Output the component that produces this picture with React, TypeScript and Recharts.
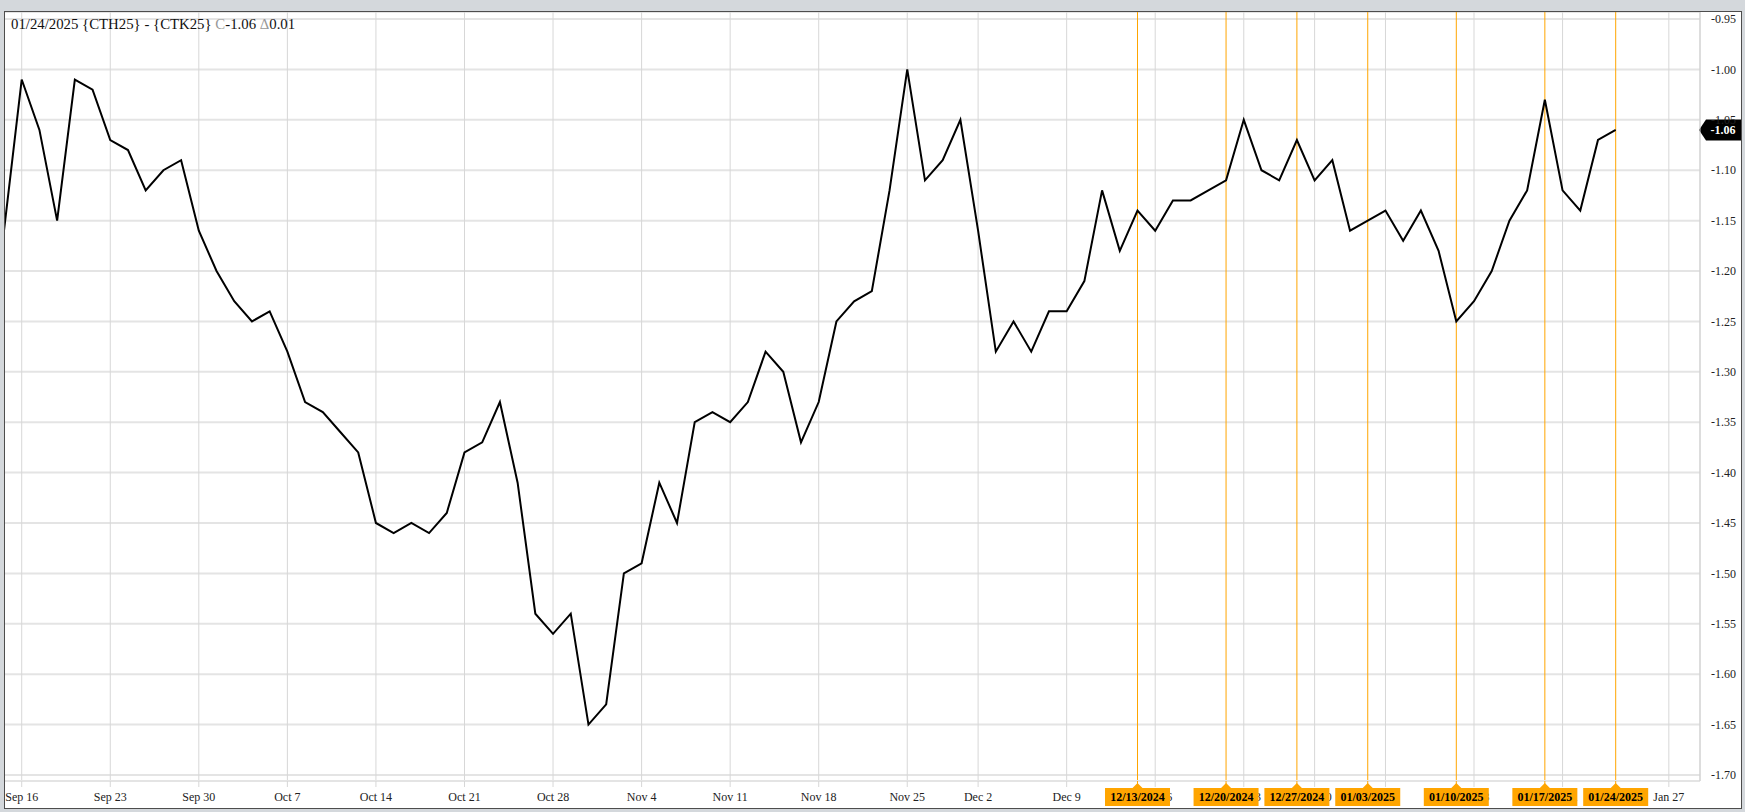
import React from 'react';
import { LineChart, Line, XAxis, YAxis, CartesianGrid, ReferenceLine } from 'recharts';

const tradingDays = [
  '09/13', '09/16', '09/17', '09/18', '09/19', '09/20', '09/23', '09/24', '09/25', '09/26', '09/27', '09/30',
  '10/01', '10/02', '10/03', '10/04', '10/07', '10/08', '10/09', '10/10', '10/11', '10/14', '10/15', '10/16', '10/17', '10/18', '10/21', '10/22', '10/23', '10/24', '10/25', '10/28', '10/29', '10/30', '10/31',
  '11/01', '11/04', '11/05', '11/06', '11/07', '11/08', '11/11', '11/12', '11/13', '11/14', '11/15', '11/18', '11/19', '11/20', '11/21', '11/22', '11/25', '11/26', '11/27', '11/29',
  '12/02', '12/03', '12/04', '12/05', '12/06', '12/09', '12/10', '12/11', '12/12', '12/13', '12/16', '12/17', '12/18', '12/19', '12/20', '12/23', '12/24', '12/26', '12/27', '12/30', '12/31',
  '01/02', '01/03', '01/06', '01/07', '01/08', '01/09', '01/10', '01/13', '01/14', '01/15', '01/16', '01/17', '01/21', '01/22', '01/23', '01/24',
];

const spreadValues = [
  -1.16, -1.01, -1.06, -1.15, -1.01, -1.02, -1.07, -1.08, -1.12, -1.10, -1.09, -1.16,
  -1.20, -1.23, -1.25, -1.24, -1.28, -1.33, -1.34, -1.36, -1.38, -1.45, -1.46, -1.45, -1.46, -1.44, -1.38, -1.37, -1.33, -1.41, -1.54, -1.56, -1.54, -1.65, -1.63,
  -1.50, -1.49, -1.41, -1.45, -1.35, -1.34, -1.35, -1.33, -1.28, -1.30, -1.37, -1.33, -1.25, -1.23, -1.22, -1.12, -1.00, -1.11, -1.09, -1.05,
  -1.16, -1.28, -1.25, -1.28, -1.24, -1.24, -1.21, -1.12, -1.18, -1.14, -1.16, -1.13, -1.13, -1.12, -1.11, -1.05, -1.10, -1.11, -1.07, -1.11, -1.09,
  -1.16, -1.15, -1.14, -1.17, -1.14, -1.18, -1.25, -1.23, -1.20, -1.15, -1.12, -1.03, -1.12, -1.14, -1.07, -1.06,
];

const xTickIndices = [1, 6, 11, 16, 21, 26, 31, 36, 41, 46, 51, 55, 60, 65, 70, 74, 78, 83, 88, 94];
const xTickLabels = ['Sep 16', 'Sep 23', 'Sep 30', 'Oct 7', 'Oct 14', 'Oct 21', 'Oct 28', 'Nov 4', 'Nov 11', 'Nov 18', 'Nov 25', 'Dec 2', 'Dec 9', 'Dec 16', 'Dec 23', 'Dec 30', 'Jan 6', 'Jan 13', 'Jan 21', 'Jan 27'];

const yTicks = [-0.95, -1.0, -1.05, -1.1, -1.15, -1.2, -1.25, -1.3, -1.35, -1.4, -1.45, -1.5, -1.55, -1.6, -1.65, -1.7];

const markerIndices = [64, 69, 73, 77, 82, 87, 91];
const markerLabels = ['12/13/2024', '12/20/2024', '12/27/2024', '01/03/2025', '01/10/2025', '01/17/2025', '01/24/2025'];

const data = spreadValues.map((v, i) => ({ i, day: tradingDays[i], v }));

const FONT = "'Liberation Serif', 'Times New Roman', Times, serif";
const ORANGE = '#ffa500';
const X_AXIS_HEIGHT = 30;

const lastValue = spreadValues[spreadValues.length - 1];
const lastChange = lastValue - spreadValues[spreadValues.length - 2];

const MarkerTick = (props: any) => {
  const { x, y, payload } = props;
  const k = markerIndices.indexOf(payload?.value);
  if (k < 0) return null;
  const yb = y - X_AXIS_HEIGHT;
  const hw = 32.5;
  const pts = [
    [x - hw, yb + 7], [x - 5, yb + 7], [x, yb + 2], [x + 5, yb + 7], [x + hw, yb + 7], [x + hw, yb + 25], [x - hw, yb + 25],
  ].map((p) => p.join(',')).join(' ');
  return (
    <g>
      <line x1={x} x2={x} y1={yb} y2={yb + 3} stroke={ORANGE} strokeWidth={1} />
      <polygon points={pts} fill={ORANGE} />
      <text x={x} y={yb + 20} textAnchor="middle" fontFamily={FONT} fontSize={12} fontWeight="bold" fill="#000">
        {markerLabels[k]}
      </text>
    </g>
  );
};

const PriceBadge = (props: any) => {
  const { viewBox, text } = props;
  if (!viewBox) return null;
  const xr = viewBox.x + viewBox.width;
  const y = viewBox.y;
  const pts = [
    [xr - 1, y], [xr + 6, y - 10.5], [xr + 41, y - 10.5], [xr + 41, y + 10.5], [xr + 6, y + 10.5],
  ].map((p) => p.join(',')).join(' ');
  return (
    <g>
      <polygon points={pts} fill="#000" />
      <text x={xr + 23} y={y} dy="0.36em" textAnchor="middle" fontFamily={FONT} fontSize={12} fontWeight="bold" fill="#fff">
        {text}
      </text>
    </g>
  );
};

export default function App() {
  return (
    <div style={{ position: 'absolute', left: 0, top: 0, width: 1745, height: 812, background: '#d4d8dc', overflow: 'hidden' }}>
      <div style={{ position: 'absolute', left: 4, top: 11, width: 1738, height: 798, background: '#fff' }} />
      <div style={{ position: 'absolute', left: 0, top: 0 }}>
        <LineChart width={1745} height={812} data={data} margin={{ top: 12, right: 0, bottom: 0, left: 4 }}>
          <CartesianGrid xAxisId="main" horizontal={true} vertical={false} stroke="#e4e4e4" strokeWidth={2} />
          <CartesianGrid xAxisId="main" horizontal={false} vertical={true} stroke="#d7d7d7" strokeWidth={1} />
          <XAxis
            xAxisId="main"
            dataKey="i"
            type="number"
            domain={[0, 95.76]}
            allowDataOverflow
            ticks={xTickIndices}
            interval={0}
            tickFormatter={(v: number) => xTickLabels[xTickIndices.indexOf(v)] ?? ''}
            height={X_AXIS_HEIGHT}
            tickSize={6}
            tickMargin={5}
            axisLine={{ stroke: '#e4e4e4', strokeWidth: 2 }}
            tickLine={{ stroke: '#d7d7d7' }}
            tick={{ fontFamily: FONT, fontSize: 12, fill: '#222' }}
          />
          <XAxis
            xAxisId="markers"
            dataKey="i"
            type="number"
            domain={[0, 95.76]}
            allowDataOverflow
            ticks={markerIndices}
            interval={0}
            height={1}
            tickSize={0}
            tickMargin={0}
            axisLine={false}
            tickLine={false}
            tick={(p: any) => <MarkerTick {...p} />}
          />
          <YAxis
            orientation="right"
            type="number"
            domain={[-1.706, -0.943]}
            allowDataOverflow
            ticks={yTicks}
            interval={0}
            width={45}
            tickFormatter={(v: number) => v.toFixed(2)}
            tickLine={false}
            tickSize={6}
            tickMargin={5}
            axisLine={{ stroke: '#cfcfcf' }}
            tick={{ fontFamily: FONT, fontSize: 12, fill: '#222', textAnchor: 'start' }}
          />
          {markerIndices.map((idx, k) => (
            <ReferenceLine
              key={markerLabels[k]}
              xAxisId="main"
              x={idx}
              stroke={ORANGE}
              strokeWidth={1}
              ifOverflow="visible"
            />
          ))}
          <Line
            xAxisId="main"
            type="linear"
            dataKey="v"
            stroke="#000"
            strokeWidth={2}
            dot={false}
            activeDot={false}
            isAnimationActive={false}
          />
          <ReferenceLine
            xAxisId="main"
            y={lastValue}
            stroke="none"
            ifOverflow="visible"
            label={<PriceBadge text={lastValue.toFixed(2)} />}
          />
        </LineChart>
      </div>
      <div
        style={{
          position: 'absolute', left: 11, top: 15, fontFamily: FONT, fontSize: 14.8, color: '#111', whiteSpace: 'nowrap', lineHeight: '18px',
        }}
      >
        {`${markerLabels[markerLabels.length - 1]} {CTH25} - {CTK25} `}
        <span style={{ color: '#999' }}>C</span>
        {lastValue.toFixed(2)}{' '}
        <span style={{ color: '#999' }}>Δ</span>
        {lastChange.toFixed(2)}
      </div>
      <div
        style={{
          position: 'absolute', left: 4, top: 11, width: 1738, height: 798, border: '1px solid #4d4d4d', boxSizing: 'border-box', pointerEvents: 'none',
        }}
      />
    </div>
  );
}
